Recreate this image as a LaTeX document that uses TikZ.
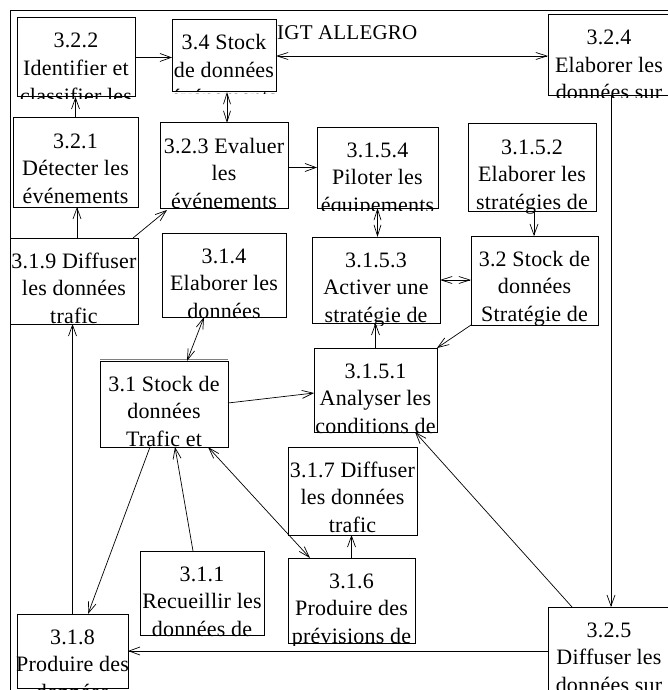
\documentclass[tikz,border=0pt]{standalone}
\usepackage{fontspec}
\setmainfont{Liberation Serif}[LetterSpace=1]
\usetikzlibrary{arrows.meta}

% process box: name, centre x, centre y, width, height, text (clipped at the bottom edge)
\newcommand\procbox[6]{%
  \node[proc, minimum width=#4pt, minimum height=#5pt] (#1) at (#2,#3) {};
  \begin{scope}
    \clip ([xshift=-20pt]#1.north west) rectangle ([xshift=20pt,yshift=-2pt]#1.south east);
    \node[boxtext] (#1-t) at ([yshift=-14pt]#1.north) {\rule{0pt}{16pt}#6};
  \end{scope}}

\begin{document}
\begin{tikzpicture}[x=1pt,y=-1pt,
  proc/.style={draw, line width=1pt, fill=white, inner sep=0pt, outer sep=0pt},
  boxtext/.style={inner sep=0pt, outer sep=0pt, align=center, anchor=north,
    font=\fontsize{22pt}{27.5pt}\selectfont},
  flow/.style={line width=0.7pt, -{Straight Barb[length=11pt,width=8pt]}},
  dflow/.style={line width=0.7pt,
    {Straight Barb[length=11pt,width=7pt]}-{Straight Barb[length=11pt,width=7pt]}},
  frame/.style={draw, line width=1pt}]

\clip (0,0) rectangle (668,690);
\fill[white] (0,0) rectangle (668,690);

% outer frame and title
\path[frame] (10,10.5) rectangle (720,740);
\node[anchor=base west, inner sep=0pt, font=\fontsize{21pt}{25pt}\selectfont]
  (title) at (277,40) {IGT ALLEGRO};

% process boxes
\procbox{b322}{76}{57.5}{118}{79}{3.2.2\\Identifier et\\classifier les}
\procbox{b34}{224}{56}{104}{72}{3.4 Stock\\de données\\événements}
\procbox{b324}{609}{55.5}{122}{81}{3.2.4\\Elaborer les\\données sur}
\procbox{b321}{75.5}{162.5}{125}{89}{3.2.1\\Détecter les\\événements}
\procbox{b323}{224}{165.5}{128}{85}{3.2.3 Evaluer\\les\\événements}
\procbox{b3154}{377.5}{167.5}{121}{81}{3.1.5.4\\Piloter les\\équipements}
\procbox{b3152}{532}{167.5}{128}{87}{3.1.5.2\\Elaborer les\\stratégies de}
\procbox{b319}{74}{281}{128}{86}{3.1.9 Diffuser\\les données\\trafic}
\procbox{b314}{224}{275}{124}{84}{3.1.4\\Elaborer les\\données}
\procbox{b3153}{376}{280}{128}{86}{3.1.5.3\\Activer une\\stratégie de}
\procbox{b32}{534.5}{280.5}{127}{89}{3.2 Stock de\\données\\Stratégie de}
\procbox{b31}{164}{404}{128}{86}{3.1 Stock de\\données\\Trafic et}
\procbox{b3151}{375.5}{390}{123}{84}{3.1.5.1\\Analyser les\\conditions de}
\procbox{b317}{352.5}{491}{129}{88}{3.1.7 Diffuser\\les données\\trafic}
\procbox{b311}{202}{593}{124}{84}{3.1.1\\Recueillir les\\données de}
\procbox{b316}{351.5}{600.5}{127}{85}{3.1.6\\Produire des\\prévisions de}
\procbox{b318}{72.5}{651}{111}{74}{3.1.8\\Produire des\\données}
\procbox{b325}{609}{653.5}{122}{93}{3.2.5\\Diffuser les\\données sur}

% doubled top edge of the traffic data store
\draw[gray, line width=1.2pt] ([yshift=1.6pt]b31.north west) -- ([yshift=1.6pt]b31.north east);

% data flows
\draw[flow] (b322.east) -- (b322.east -| b34.west);
\draw[dflow] (b34.east) -- (b34.east -| b324.west);
\draw[flow] (b321.north) -- (b321.north |- b322.south);
\draw[dflow] ([xshift=3pt]b34.south) -- ([xshift=3pt]b34.south |- b323.north);
\draw[flow] (b3154.west -| b323.east) -- (b3154.west);
\draw[flow] ([xshift=3pt]b319.north) -- ([xshift=3pt]b319.north |- b321.south);
\draw[flow] ([xshift=-5pt]b319.north east) -- ([xshift=7pt,yshift=-2pt]b323.south west);
\draw[dflow] (b3154.south) -- (b3154.south |- b3153.north);
\draw[flow] ([xshift=2pt]b3152.south) -- ([xshift=2pt]b3152.south |- b32.north);
\draw[flow] ([xshift=2pt]b324.south) -- ([xshift=2pt]b324.south |- b325.north);
\draw[dflow] ([xshift=-20pt]b314.south) -- ([xshift=23pt]b31.north);
\draw[flow] ([yshift=1pt]b31.east) -- ([yshift=-3pt]b3151.west);
\draw[dflow] (b3153.east) -- (b3153.east -| b32.west);
\draw[flow] (b32.south west) -- (b3151.north east);
\draw[flow] (b3151.north) -- (b3151.north |- b3153.south);
\draw[flow] ([xshift=24pt]b325.north west) -- ([xshift=-22pt]b3151.south east);
\draw[flow] (b318.north) -- (b318.north |- b319.south);
\draw[flow] ([xshift=-14pt]b31.south) -- ([xshift=15.5pt]b318.north);
\draw[flow] ([xshift=-9pt]b311.north) -- ([xshift=11pt]b31.south);
\draw[dflow] ([xshift=-20pt]b31.south east) -- ([xshift=22pt]b316.north west);
\draw[flow] (b316.north) -- (b316.north |- b317.south);
\draw[flow] (b318.east -| b325.west) -- (b318.east);

\end{tikzpicture}
\end{document}
